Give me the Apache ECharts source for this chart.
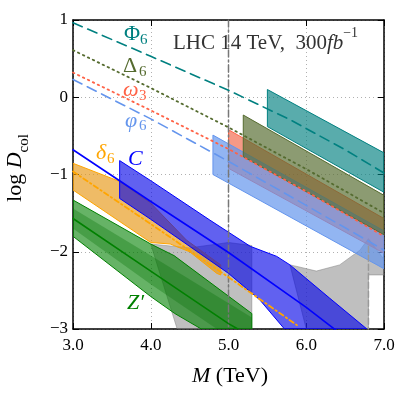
<!DOCTYPE html>
<html>
<head>
<meta charset="utf-8">
<script src="https://cdn.jsdelivr.net/npm/echarts@6/dist/echarts.min.js"></script>
<style>
  html, body { margin: 0; padding: 0; background: #fff; }
  #chart { width: 408px; height: 399px; }
</style>
</head>
<body>
<div id="chart"></div>
<script>
// axis ticks
const xTicks = [3, 4, 5, 6, 7];
const xTickLabels = ['3.0', '4.0', '5.0', '6.0', '7.0'];
const yTicks = [-3, -2, -1, 0, 1];
const yTickLabels = ['\u22123', '\u22122', '\u22121', '0', '1'];

// central predictions (x = M in TeV, y = log D_col)
const Phi6Line = [[3, 0.965], [4, 0.53], [5, 0.09], [5.79, -0.29], [6.5, -0.68], [7, -0.98]];
const Delta6Line = [[3, 0.61], [4, 0.12], [5, -0.39], [6, -0.93], [7, -1.5]];
const omega3Line = [[3, 0.32], [4, -0.17], [5, -0.67], [6, -1.22], [7, -1.8]];
const phi6Line = [[3, 0.23], [4, -0.28], [5, -0.83], [6, -1.4], [7, -1.98]];
const CLine = [[3, -0.68], [4, -1.35], [5, -2.01], [6, -2.72], [6.4, -3.03]];
const delta6Line = [[3, -0.96], [4, -1.64], [5, -2.33], [5.88, -2.95]];
const ZLine = [[3, -1.57], [4, -2.25], [5, -2.93], [5.12, -3.0]];

// bands (outline vertices)
const Phi6Band = [[5.5, 0.10], [7, -0.72], [7, -1.23], [5.5, -0.38]];
const Delta6Band = [[5.19, -0.23], [7, -1.27], [7, -1.78], [5.19, -0.77]];
const omega3Band = [[5.0, -0.42], [7, -1.57], [7, -2.02], [5.0, -0.92]];
const phi6Band = [[4.8, -0.49], [7, -1.73], [7, -2.22], [4.8, -1.0]];
const CBand = [[3.6, -0.82], [4.0, -1.08], [4.76, -1.59], [5.02, -1.76], [5.28, -1.93], [5.62, -2.06],
  [5.79, -2.17], [6.3, -2.6], [6.78, -3.0], [5.72, -3.0], [5.4, -2.62], [5.0, -2.28], [4.0, -1.58], [3.6, -1.31]];
const delta6Band = [[3, -0.855], [3.6, -1.09], [4.0, -1.37], [4.46, -1.85], [4.9, -2.17], [4.9, -2.3],
  [4.85, -2.28], [4.5, -2.0], [4.25, -1.9], [4.0, -1.88], [3, -1.2]];
const ZBandOuter = [[3, -1.33], [4.0, -1.9], [4.3, -2.05], [5.3, -2.8], [5.3, -3.0], [4.65, -3.0],
  [4.31, -2.8], [4.0, -2.58], [3, -1.8]];
const ZBandInner = [[3, -1.44], [4, -2.05], [5.3, -2.85], [5.3, -3.0], [4.85, -3.0], [4, -2.42], [3, -1.7]];
const grayRegionA = [[4.0, -1.9], [4.5, -1.95], [5.0, -1.88], [5.3, -1.92], [5.3, -3.0], [4.34, -3.0]];
const grayRegionB = [[5.79, -2.17], [5.88, -2.19], [6.13, -2.25], [6.43, -2.17], [6.69, -1.98], [6.8, -1.83],
  [7.0, -2.1], [7.0, -2.3], [6.8, -2.3], [6.8, -3.0], [6.0, -3.0]];

// reference verticals
const vline5 = [[5, 1], [5, -3]];
const vline68 = [[6.8, -1.93], [6.8, -3]];

const serif = 'Liberation Serif';

function band(pts, fill, stroke, z) {
    return {
        type: 'custom',
        coordinateSystem: 'cartesian2d',
        clip: true,
        silent: true,
        z: z,
        data: [pts[0]],
        renderItem: function (params, api) {
            return {
                type: 'polygon',
                shape: { points: pts.map(p => api.coord(p)) },
                style: { fill: fill, stroke: stroke, lineWidth: 1 }
            };
        }
    };
}

function curve(pts, color, dash, width, z) {
    return {
        type: 'line',
        data: pts,
        symbol: 'none',
        silent: true,
        clip: true,
        z: z,
        lineStyle: { color: color, width: width, type: dash, cap: 'round' }
    };
}

function makeAxis(pos, isX, primary) {
    const ax = {
        type: 'value',
        position: pos,
        min: isX ? 3 : -3,
        max: isX ? 7 : 1,
        interval: 1,
        axisLine: { show: true, onZero: false, lineStyle: { color: '#000', width: 1.5 } },
        axisTick: { show: true, inside: true, length: 6, lineStyle: { color: '#000', width: 1 } },
        axisLabel: { show: false },
        splitLine: { show: false }
    };
    if (primary) {
        ax.axisLabel = {
            show: true,
            fontFamily: serif,
            fontSize: 17,
            color: '#000',
            margin: isX ? 8 : 5,
            formatter: function (v) {
                const ticks = isX ? xTicks : yTicks;
                const labels = isX ? xTickLabels : yTickLabels;
                const i = ticks.findIndex(t => Math.abs(t - v) < 1e-6);
                return i >= 0 ? labels[i] : '';
            }
        };
        ax.splitLine = { show: true, lineStyle: { color: '#b0b0b0', width: 1, type: [1, 3] } };
    }
    return ax;
}

const chart = echarts.init(document.getElementById('chart'), null, { renderer: 'canvas' });

const option = {
    animation: false,
    backgroundColor: '#fff',
    grid: { left: 73, right: 24, top: 20, bottom: 70, containLabel: false },
    xAxis: [makeAxis('bottom', true, true), makeAxis('top', true, false)],
    yAxis: [makeAxis('left', false, true), makeAxis('right', false, false)],
    series: [
        band(grayRegionA, 'rgba(128,128,128,0.5)', 'rgba(128,128,128,0.5)', 2),
        band(grayRegionB, 'rgba(128,128,128,0.5)', 'rgba(128,128,128,0.5)', 2),
        band(delta6Band, 'rgba(230,150,20,0.65)', '#FFA500', 3),
        band(ZBandOuter, 'rgba(0,128,0,0.6)', '#008000', 4),
        band(ZBandInner, 'rgba(0,110,0,0.3)', 'rgba(0,0,0,0)', 4),
        band(CBand, 'rgba(0,0,230,0.62)', '#0000FF', 5),
        band(omega3Band, 'rgba(240,90,60,0.62)', '#FF6347', 6),
        band(phi6Band, 'rgba(100,149,237,0.7)', '#6495ED', 7),
        band(Delta6Band, 'rgba(85,107,47,0.68)', '#556B2F', 8),
        band(Phi6Band, 'rgba(0,128,128,0.65)', '#008080', 8),
        curve(vline5, '#777', [7, 3, 2, 3], 1.5, 9),
        curve(vline68, '#999', [6, 3], 1.5, 9),
        curve(Phi6Line, '#008080', [10, 6], 1.6, 10),
        curve(Delta6Line, '#556B2F', [1.5, 4], 1.8, 10),
        curve(omega3Line, '#FF6347', [1.5, 4], 1.8, 10),
        curve(phi6Line, '#6495ED', [10, 6], 1.6, 10),
        curve(CLine, '#0000FF', 'solid', 1.6, 10),
        curve(delta6Line, '#FFA500', [5, 3, 1.5, 3], 1.8, 10),
        curve(ZLine, '#008000', 'solid', 1.6, 10)
    ],
    graphic: [
        {
            type: 'text', x: 173, y: 40, z: 20,
            style: {
                text: '{n|LHC 14 TeV,  300}{i|fb}{s|\u22121}',
                verticalAlign: 'middle',
                rich: {
                    n: { fontFamily: serif, fontSize: 21, fill: '#333', lineHeight: 28, verticalAlign: 'bottom' },
                    i: { fontFamily: serif, fontSize: 21, fontStyle: 'italic', fill: '#333', lineHeight: 28, verticalAlign: 'bottom' },
                    s: { fontFamily: serif, fontSize: 14, fill: '#333', lineHeight: 14, verticalAlign: 'top' }
                }
            }
        },
        {
            type: 'text', x: 18, y: 168, rotation: Math.PI / 2, z: 20,
            style: {
                text: '{n|log }{i|D}{s|col}',
                align: 'center', verticalAlign: 'middle',
                rich: {
                    n: { fontFamily: serif, fontSize: 22, fill: '#000', lineHeight: 28, verticalAlign: 'top' },
                    i: { fontFamily: serif, fontSize: 22, fontStyle: 'italic', fill: '#000', lineHeight: 28, verticalAlign: 'top' },
                    s: { fontFamily: serif, fontSize: 15, fill: '#000', lineHeight: 15, verticalAlign: 'bottom' }
                }
            }
        },
        {
            type: 'text', x: 230, y: 376, z: 20,
            style: {
                text: '{i|M}{n| (TeV)}',
                align: 'center', verticalAlign: 'middle',
                rich: {
                    n: { fontFamily: serif, fontSize: 22, fill: '#000' },
                    i: { fontFamily: serif, fontSize: 22, fontStyle: 'italic', fill: '#000' }
                }
            }
        },
        // curve labels
        { type: 'text', x: 124, y: 34, z: 20, style: { text: '\u03a6', font: '22px "Liberation Serif"', fill: '#008080', verticalAlign: 'middle' } },
        { type: 'text', x: 140, y: 40, z: 20, style: { text: '6', font: '15px "Liberation Serif"', fill: '#008080', verticalAlign: 'middle' } },
        { type: 'text', x: 123, y: 66, z: 20, style: { text: '\u0394', font: '22px "Liberation Serif"', fill: '#556B2F', verticalAlign: 'middle' } },
        { type: 'text', x: 139, y: 72, z: 20, style: { text: '6', font: '15px "Liberation Serif"', fill: '#556B2F', verticalAlign: 'middle' } },
        { type: 'text', x: 123, y: 90, z: 20, style: { text: '\u03c9', font: 'italic 22px "Liberation Serif"', fill: '#FF6347', verticalAlign: 'middle' } },
        { type: 'text', x: 139, y: 96, z: 20, style: { text: '3', font: '15px "Liberation Serif"', fill: '#FF6347', verticalAlign: 'middle' } },
        { type: 'text', x: 125, y: 121, z: 20, style: { text: '\u03c6', font: 'italic 22px "Liberation Serif"', fill: '#6495ED', verticalAlign: 'middle' } },
        { type: 'text', x: 139, y: 126, z: 20, style: { text: '6', font: '15px "Liberation Serif"', fill: '#6495ED', verticalAlign: 'middle' } },
        { type: 'text', x: 96, y: 153, z: 20, style: { text: '\u03b4', font: 'italic 22px "Liberation Serif"', fill: '#FFA500', verticalAlign: 'middle' } },
        { type: 'text', x: 107, y: 159, z: 20, style: { text: '6', font: '15px "Liberation Serif"', fill: '#FFA500', verticalAlign: 'middle' } },
        { type: 'text', x: 128, y: 159, z: 20, style: { text: 'C', font: 'italic 22px "Liberation Serif"', fill: '#0000FF', verticalAlign: 'middle' } },
        { type: 'text', x: 127, y: 303, z: 20, style: { text: 'Z\u2032', font: 'italic 22px "Liberation Serif"', fill: '#008000', verticalAlign: 'middle' } }
    ]
};

chart.setOption(option);
</script>
</body>
</html>
